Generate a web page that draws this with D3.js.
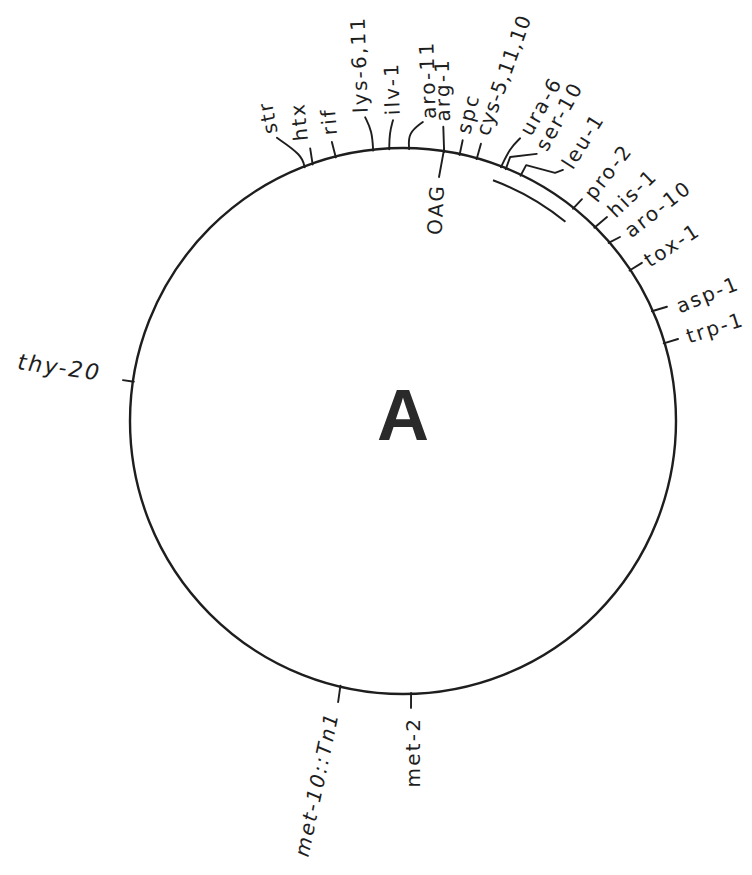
<!DOCTYPE html>
<html>
<head>
<meta charset="utf-8">
<script src="https://cdn.jsdelivr.net/npm/d3@7/dist/d3.min.js"></script>
<style>
  html, body { margin: 0; padding: 0; background: #fff; }
  svg { display: block; }
</style>
</head>
<body>
<svg id="chart" width="752" height="875"></svg>
<script>
// ---- data (map positions in degrees, clockwise from top) ----
const genes = ["str","htx","rif","lys-6,11","ilv-1","aro-11","arg-1","spc","cys-5,11,10",
  "ura-6","ser-10","leu-1","pro-2","his-1","aro-10","tox-1","asp-1","trp-1",
  "met-2","met-10::Tn1","thy-20"];
const positions = [-21.2,-19.4,-14.3,-6.3,-2.9,1.3,8.7,12.0,15.7,
  21.1,22.2,25.6,38.7,44.7,49.1,56.4,66.2,73.4,
  178.3,193.3,278.3];
const innerMarkers = ["OAG"];
const innerPositions = [8.6];
const innerArc = [20.5, 39.2];
const mapTitle = "A";

// ---- label layout (leader bends [angle, radius], text placement) ----
const layout = {
  "str":        {lead:[[-20.8,284.5],[-24.0,310]], curve:"basis", text:[-24.7,316], rot:-101},
  "htx":        {lead:[[-18.8,288]], text:[-20.0,298], rot:-96},
  "rif":        {lead:[[-14.3,288]], text:[-14.3,295], rot:-95},
  "lys-6,11":   {lead:[[-6.1,291.6],[-7.1,306]], curve:"basis", text:[-7.8,311], rot:-92},
  "ilv-1":      {lead:[[-2.7,288],[-1.9,301]], curve:"basis", text:[-1.9,306], rot:-92},
  "aro-11":     {lead:[[1.0,288],[3.8,299.7]], curve:"basis", text:[4.9,303], rot:-92},
  "arg-1":      {lead:[[7.8,297]], text:[7.6,302], rot:-91},
  "spc":        {lead:[[12.0,287]], text:[11.8,294], rot:-76},
  "cys-5,11,10":{lead:[[15.7,288]], text:[15.4,297], rot:-70, spacing:0.9},
  "ura-6":      {lead:[[21.4,293],[22.5,306]], curve:"basis", text:[23.0,312], rot:-60},
  "ser-10":     {lead:[[22.1,285],[26.6,298.7]], curve:"linear", text:[26.9,305], rot:-61},
  "leu-1":      {lead:[[25.7,284],[31.5,291],[32.5,297.7]], curve:"linear", text:[32.8,302.3], rot:-58},
  "pro-2":      {lead:[[38.9,285]], text:[39.6,291], rot:-52},
  "his-1":      {lead:[[45.0,288.5]], text:[45.1,293.5], rot:-44},
  "aro-10":     {lead:[[49.7,284.5]], text:[50.0,292.4], rot:-38},
  "tox-1":      {lead:[[56.5,286.5]], text:[56.8,290.4], rot:-33},
  "asp-1":      {lead:[[66.6,287.6]], text:[67.4,296.8], rot:-22},
  "trp-1":      {lead:[[73.4,287]], text:[73.5,296], rot:-18},
  "met-2":      {lead:[[178.4,287]], text:[178.1,296], rot:-90, anchor:"end"},
  "met-10::Tn1":{lead:[[193.0,288.4]], text:[193.7,299.5], rot:-78, anchor:"end", italic:true},
  "thy-20":     {lead:[[278.3,283]], text:[279.0,305.8], rot:8, anchor:"end", size:22, italic:true}
};
const innerLayout = { "OAG": {lead:[[8.4,246.6]], text:[8.2,239.4], rot:-87, anchor:"end"} };

// ---- drawing ----
const cx = 403, cy = 421, R = 273;
const ink = "#1e1e1e";
const svg = d3.select("#chart");
const g = svg.append("g").attr("transform", `translate(${cx},${cy})`);
const angle = d3.scaleLinear().domain([0, 360]).range([0, 2 * Math.PI]);
const polar = (deg, r) => [r * Math.sin(angle(deg)), -r * Math.cos(angle(deg))];

g.append("circle").attr("r", R).attr("fill", "none")
  .attr("stroke", ink).attr("stroke-width", 2.4);

g.append("path")
  .attr("d", d3.arc().innerRadius(257).outerRadius(257)
    .startAngle(angle(innerArc[0])).endAngle(angle(innerArc[1]))())
  .attr("fill", "none").attr("stroke", ink).attr("stroke-width", 2);

const curves = { basis: d3.curveBasis, linear: d3.curveLinear };

function drawLabel(name, pos, lay, baseR) {
  const pts = [[pos, baseR]].concat(lay.lead).map(p => polar(p[0], p[1]));
  g.append("path")
    .attr("d", d3.line().curve(curves[lay.curve || "linear"])(pts))
    .attr("fill", "none").attr("stroke", ink).attr("stroke-width", 1.9)
    .attr("stroke-linecap", "round").attr("stroke-linejoin", "round");
  const [tx, ty] = polar(lay.text[0], lay.text[1]);
  g.append("text")
    .attr("transform", `translate(${tx},${ty}) rotate(${lay.rot})`)
    .attr("text-anchor", lay.anchor || "start")
    .attr("dominant-baseline", "central")
    .attr("font-family", "DejaVu Sans, sans-serif")
    .attr("font-size", lay.size || 20)
    .attr("font-style", lay.italic ? "italic" : "normal")
    .attr("letter-spacing", lay.spacing != null ? lay.spacing : 2.2)
    .attr("fill", ink)
    .text(name);
}

genes.forEach((name, i) => drawLabel(name, positions[i], layout[name], R - 1));
innerMarkers.forEach((name, i) => drawLabel(name, innerPositions[i], innerLayout[name], R + 2));

g.append("text")
  .attr("x", 0).attr("y", 19)
  .attr("text-anchor", "middle")
  .attr("font-family", "Liberation Sans, Arial, sans-serif")
  .attr("font-weight", "bold")
  .attr("font-size", 72)
  .attr("fill", "#2a2a2a")
  .text(mapTitle);
</script>
</body>
</html>
